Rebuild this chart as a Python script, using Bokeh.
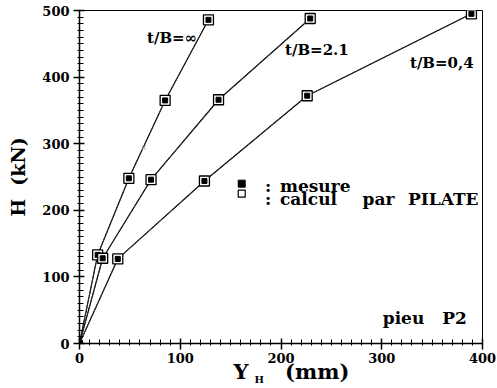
from bokeh.plotting import figure
from bokeh.models import Label, Range1d, SingleIntervalTicker, Title
from bokeh.embed import file_html
from bokeh.resources import INLINE

# --- data ---
y_inf = [0, 18, 49, 85, 128]
h_inf = [0, 133, 248, 365, 486]

y_21 = [0, 23, 71, 138, 229]
h_21 = [0, 128, 246, 366, 488]

y_04 = [0, 38, 124, 226, 389]
h_04 = [0, 127, 244, 372, 495]

stray_x = [64]
stray_h = [294]

legend_pts_x = [161, 161]
legend_pts_h = [240, 225]

x_ticks_interval = 100
y_ticks_interval = 100

FONT = "DejaVu Serif"
NB = "\u00a0"

p = figure(width=497, height=388, output_backend="svg", toolbar_location=None,
           x_range=Range1d(0, 400), y_range=Range1d(0, 500),
           min_border_left=79, min_border_right=15, min_border_top=10, min_border_bottom=45)
p.background_fill_color = "white"
p.border_fill_color = "white"
p.outline_line_color = "black"
p.outline_line_width = 1
p.xgrid.visible = False
p.ygrid.visible = False

p.xaxis.ticker = SingleIntervalTicker(interval=x_ticks_interval, num_minor_ticks=10)
p.yaxis.ticker = SingleIntervalTicker(interval=y_ticks_interval, num_minor_ticks=10)
for ax in (p.xaxis, p.yaxis):
    ax.axis_line_width = 1.5
    ax.axis_line_color = "black"
    ax.major_tick_line_color = "black"
    ax.minor_tick_line_color = "black"
    ax.major_tick_line_width = 1.5
    ax.major_tick_in = 5
    ax.major_tick_out = 6
    ax.minor_tick_in = 4
    ax.minor_tick_out = 2
    ax.major_label_text_font = FONT
    ax.major_label_text_font_style = "bold"
    ax.major_label_text_font_size = "13px"
    ax.major_label_text_color = "black"
p.xaxis.major_label_standoff = 3
p.yaxis.major_label_standoff = 4

p.yaxis.axis_label = "H" + NB + NB + "(kN)"
p.yaxis.axis_label_text_font = FONT
p.yaxis.axis_label_text_font_style = "bold"
p.yaxis.axis_label_text_font_size = "19px"
p.yaxis.axis_label_text_color = "black"
p.yaxis.axis_label_standoff = 10

for xs, hs in ((y_inf, h_inf), (y_21, h_21), (y_04, h_04)):
    p.line(xs, hs, line_color="black", line_width=1.2)
    p.line(xs, hs, line_color="#333333", line_width=1.0, line_dash="5 2")
    p.scatter(xs[1:], hs[1:], marker="square", size=10, fill_color="white",
              line_color="black", line_width=1.3)
    p.scatter(xs[1:], hs[1:], marker="square", size=5, fill_color="black",
              line_color="black")
    p.scatter(xs[:1], hs[:1], marker="square", size=6, fill_color="black",
              line_color="black")

p.scatter(stray_x, stray_h, marker="x", size=6, line_color="#aaaaaa", line_width=1)

# legend
p.scatter(legend_pts_x[:1], legend_pts_h[:1], marker="square", size=7,
          fill_color="black", line_color="black")
p.scatter(legend_pts_x[1:], legend_pts_h[1:], marker="square", size=7,
          fill_color="white", line_color="black", line_width=1.2)

def lab(x, y, t, size="15px", **kw):
    p.add_layout(Label(x=x, y=y, text=t, text_font=FONT, text_font_style="bold",
                       text_font_size=size, text_color="black",
                       text_baseline="alphabetic", text_align="left", **kw))

lab(184, 236, ":", size="17px")
lab(199, 236, "mesure", size="17px")
lab(184, 217, ":", size="17px")
lab(199, 217, "calcul", size="17px")
lab(281, 217, "par", size="17px")
lab(326, 217, "PILATE", size="17px")
lab(67, 458, "t/B=\u221e")
lab(204, 440, "t/B=2.1")
lab(328, 421, "t/B=0,4")
lab(301, 39, "pieu", size="17px")
lab(360, 39, "P2", size="17px")

# x axis title with subscript, as titles below the axis
t1 = Title(text="Y" + NB * 5 + "(mm)", align="left", offset=154, standoff=-18,
           text_font=FONT, text_font_style="bold", text_font_size="21px",
           text_color="black")
t2 = Title(text="H", align="left", offset=175, standoff=-6,
           text_font=FONT, text_font_style="bold", text_font_size="10px",
           text_color="black")
p.add_layout(t1, "below")
p.add_layout(t2, "below")

open("out.html", "w").write(file_html(p, INLINE))
